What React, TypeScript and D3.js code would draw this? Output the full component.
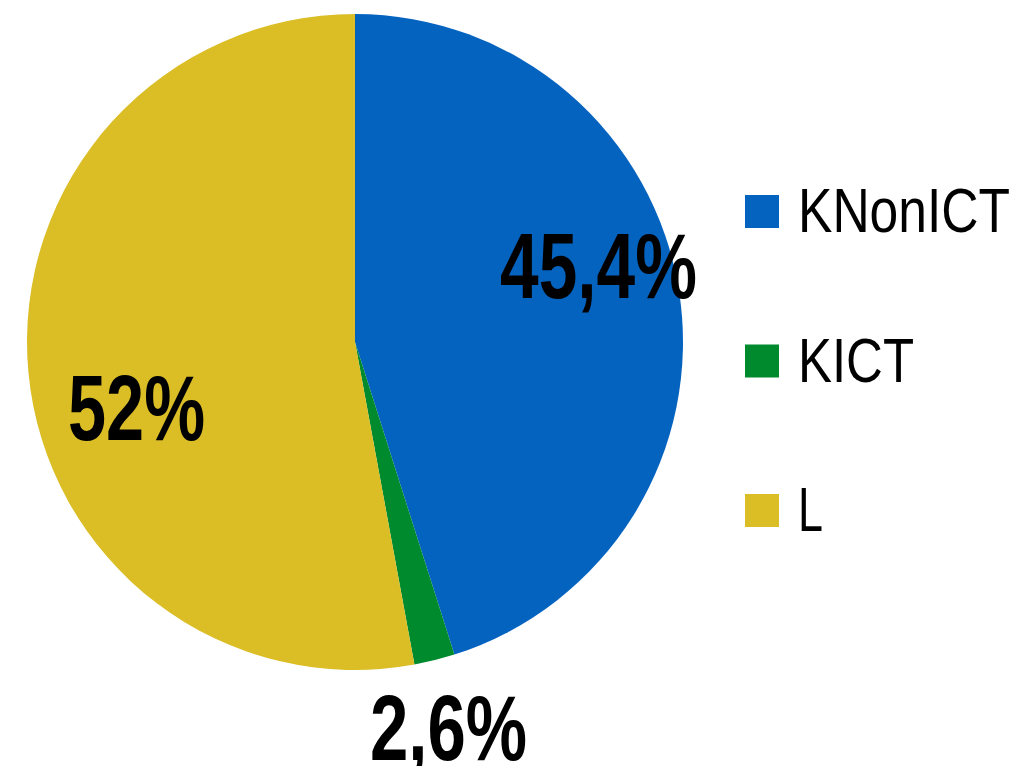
import React from "react";
import * as d3 from "d3";

const categories = ["KNonICT", "KICT", "L"];
const values = [45.1, 2.0, 52.9];
const labels = ["45,4%", "2,6%", "52%"];
const colors = ["#0563c0", "#008a2e", "#dbbd26"];

const W = 1032;
const H = 766;
const cx = 355;
const cy = 342;
const R = 328;
const FONT = "'Liberation Sans', Arial, sans-serif";

// label anchor positions (start x, baseline y, width)
const labelPos: [number, number, number][] = [
  [500, 298, 197],
  [370, 760, 157],
  [68, 440, 137],
];
const legendWidths = [212, 116, 25];

export default function App() {
  const pie = d3.pie<number>().sort(null).value((d) => d);
  const arcs = pie(values);
  const arcGen = d3.arc<d3.PieArcDatum<number>>().innerRadius(0).outerRadius(R);
  return (
    <svg width={W} height={H} style={{ position: "absolute", left: 0, top: 0 }}>
      <rect width={W} height={H} fill="#fff" />
      <g transform={`translate(${cx},${cy})`}>
        {arcs.map((a, i) => (
          <path key={i} d={arcGen(a) || ""} fill={colors[i]} />
        ))}
      </g>
      {labels.map((t, i) => (
        <text
          key={t}
          x={labelPos[i][0]}
          y={labelPos[i][1]}
          fontFamily={FONT}
          fontWeight="bold"
          fontSize={92}
          textLength={labelPos[i][2]}
          lengthAdjust="spacingAndGlyphs"
          fill="#000"
        >
          {t}
        </text>
      ))}
      {categories.map((c, i) => (
        <g key={c} transform={`translate(745,${195 + i * 149.5})`}>
          <rect width={34} height={33} fill={colors[i]} />
          <text
            x={53}
            y={37}
            fontFamily={FONT}
            fontSize={63}
            textLength={legendWidths[i]}
            lengthAdjust="spacingAndGlyphs"
            fill="#000"
          >
            {c}
          </text>
        </g>
      ))}
    </svg>
  );
}
